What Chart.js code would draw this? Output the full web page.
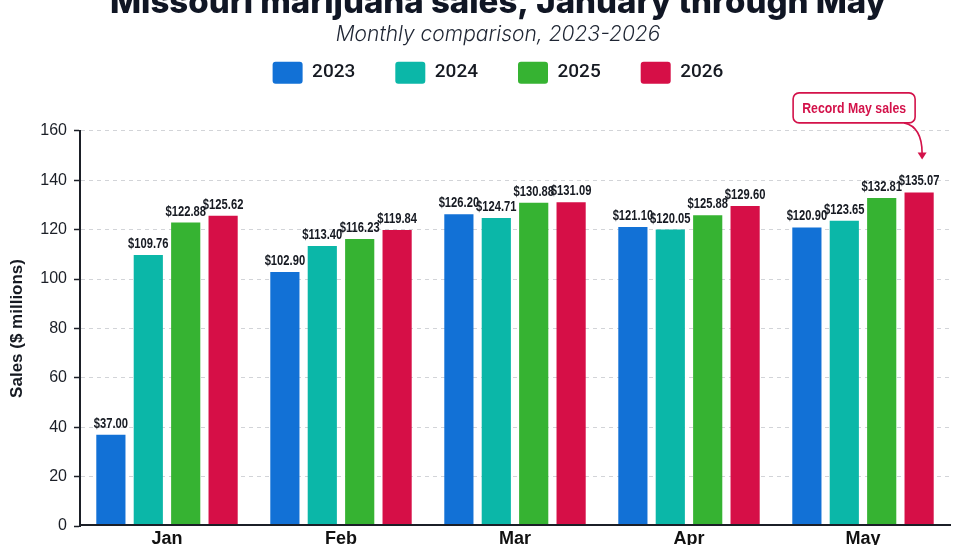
<!DOCTYPE html>
<html>
<head>
<meta charset="utf-8">
<script src="https://cdn.jsdelivr.net/npm/chart.js@4.4.1/dist/chart.umd.min.js"></script>
<style>
  html, body { margin: 0; padding: 0; background: #ffffff; }
  #wrap { position: relative; width: 960px; height: 545px; overflow: hidden; background: #ffffff; }
  #c { position: absolute; left: 0; top: -30px; }
</style>
</head>
<body>
<div id="wrap"><canvas id="c" width="996" height="600"></canvas></div>
<script>
// ---- Data ----
const categories = ['Jan', 'Feb', 'Mar', 'Apr', 'May'];
const seriesLabels = ['2023', '2024', '2025', '2026'];
const sales2023 = [37.00, 102.90, 126.20, 121.10, 120.90];
const sales2024 = [109.76, 113.40, 124.71, 120.05, 123.65];
const sales2025 = [122.88, 116.23, 130.88, 125.88, 132.81];
const sales2026 = [125.62, 119.84, 131.09, 129.60, 135.07];
const yTickValues = [0, 20, 40, 60, 80, 100, 120, 140, 160];
const titleText = 'Missouri marijuana sales, January through May';
const subtitleText = 'Monthly comparison, 2023-2026';
const yAxisTitle = 'Sales ($ millions)';
const calloutText = 'Record May sales';
const calloutSeries = 3;   // 2026
const calloutCategory = 4; // May

// ---- Styles ----
const colors = ['#1271d6', '#0bb7a8', '#36b332', '#d60f47'];
const sans = "'Liberation Sans', Arial, sans-serif";
const ink = '#161a22';

const seriesValues = [sales2023, sales2024, sales2025, sales2026];

// condensed text helper (horizontal squeeze of a real text draw)
function narrowText(ctx, text, x, y, squeeze) {
  ctx.save();
  ctx.translate(x, y);
  ctx.scale(squeeze, 1);
  ctx.fillText(text, 0, 0);
  ctx.restore();
}

const valueLabels = {
  id: 'valueLabels',
  afterDatasetsDraw(chart) {
    const ctx = chart.ctx;
    ctx.save();
    ctx.font = 'bold 14px ' + sans;
    ctx.fillStyle = ink;
    ctx.textAlign = 'center';
    ctx.textBaseline = 'alphabetic';
    chart.data.datasets.forEach((ds, di) => {
      const meta = chart.getDatasetMeta(di);
      meta.data.forEach((el, i) => {
        narrowText(ctx, '$' + ds.data[i].toFixed(2), el.x, el.y - 7, 0.8);
      });
    });
    ctx.restore();
  }
};

const spacer = {
  id: 'spacer',
  beforeInit(chart) {
    Chart.layouts.addBox(chart, {
      position: 'top', weight: 500, fullSize: true, options: {},
      isHorizontal() { return true; },
      update(maxWidth) { this.width = maxWidth; this.height = 36.3; },
      draw() {}
    });
  }
};

const callout = {
  id: 'callout',
  afterDraw(chart) {
    const el = chart.getDatasetMeta(calloutSeries).data[calloutCategory];
    if (!el) return;
    const ctx = chart.ctx;
    const area = chart.chartArea;
    const red = '#d3124a';
    const bx = el.x - 126, bw = 122;
    const by = area.top - 38, bh = 30;
    ctx.save();
    ctx.fillStyle = '#ffffff';
    ctx.strokeStyle = red;
    ctx.lineWidth = 1.6;
    ctx.beginPath();
    ctx.roundRect(bx, by, bw, bh, 6);
    ctx.fill();
    ctx.stroke();
    ctx.fillStyle = red;
    ctx.font = 'bold 15px ' + sans;
    ctx.textAlign = 'center';
    ctx.textBaseline = 'middle';
    narrowText(ctx, calloutText, bx + bw / 2, by + bh / 2 + 1, 0.82);
    // curved arrow
    const sx = el.x - 15, sy = by + bh;
    const tx = el.x + 3, ty = el.y - 33;
    ctx.beginPath();
    ctx.moveTo(sx, sy);
    ctx.quadraticCurveTo(tx, sy + 4, tx, ty - 6);
    ctx.lineWidth = 1.6;
    ctx.stroke();
    ctx.beginPath();
    ctx.moveTo(tx - 4.5, ty - 7);
    ctx.lineTo(tx + 4.5, ty - 7);
    ctx.lineTo(tx, ty);
    ctx.closePath();
    ctx.fill();
    ctx.restore();
  }
};

new Chart(document.getElementById('c'), {
  type: 'bar',
  data: {
    labels: categories,
    datasets: seriesLabels.map((name, i) => ({
      label: name,
      data: seriesValues[i],
      backgroundColor: colors[i],
      borderWidth: 0,
      categoryPercentage: 0.86,
      barPercentage: 0.78
    }))
  },
  options: {
    responsive: false,
    animation: false,
    devicePixelRatio: 1,
    layout: { padding: 0 },
    plugins: {
      tooltip: { enabled: false },
      title: {
        display: true,
        text: titleText,
        color: '#101624',
        font: { family: "Inter, 'Liberation Sans', sans-serif", size: 33, weight: '800', lineHeight: 1.2 },
        padding: { top: 13, bottom: 0 }
      },
      subtitle: {
        display: true,
        text: subtitleText,
        color: '#1e2533',
        font: { family: "Inter, 'Open Sans', sans-serif", size: 21, style: 'italic', weight: '300', lineHeight: 1.2 },
        padding: { top: -0.5, bottom: -25.6 }
      },
      legend: {
        display: true,
        position: 'top',
        labels: {
          boxWidth: 30,
          boxHeight: 22,
          padding: 40,
          useBorderRadius: true,
          borderRadius: 3,
          color: ink,
          font: { family: "Roboto, 'Liberation Sans', sans-serif", size: 19, weight: '500' }
        }
      }
    },
    scales: {
      x: {
        offset: true,
        grid: { display: false, drawTicks: false },
        border: { display: true, color: '#1b1f27', width: 2, z: 1 },
        ticks: {
          color: '#111',
          padding: 3,
          font: { family: sans, size: 18, weight: 'bold' }
        },
        afterFit(s) { s.height = 44; s.paddingRight = 46; }
      },
      y: {
        min: yTickValues[0],
        max: yTickValues[yTickValues.length - 1],
        ticks: {
          stepSize: yTickValues[1] - yTickValues[0],
          color: '#1b1f27',
          padding: 7,
          font: { family: sans, size: 16 }
        },
        grid: {
          color: (c) => (c.tick && c.tick.value === 0 ? 'rgba(0,0,0,0)' : '#d2d4d8'),
          lineWidth: 1,
          drawTicks: true,
          tickLength: 6,
          tickColor: '#1b1f27',
          tickWidth: 1.5
        },
        border: { display: true, color: '#1b1f27', width: 2, dash: [4, 4] },
        title: {
          display: true,
          text: yAxisTitle,
          color: '#161a22',
          font: { family: sans, size: 17, weight: 'bold' },
          padding: { top: 7, bottom: 0 }
        },
        afterFit(s) { s.width = 80; }
      }
    }
  },
  plugins: [valueLabels, spacer, callout]
});
</script>
</body>
</html>
